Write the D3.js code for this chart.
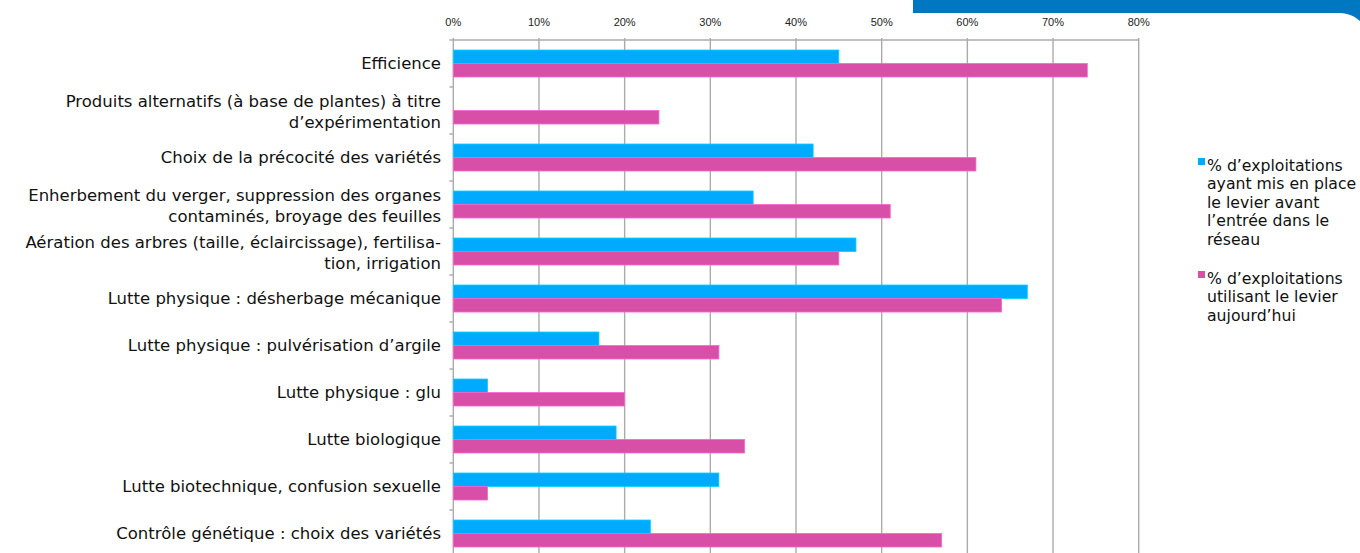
<!DOCTYPE html>
<html>
<head>
<meta charset="utf-8">
<script src="https://cdn.jsdelivr.net/npm/d3@7"></script>
<style>
  html, body { margin: 0; padding: 0; background: #fff; }
  svg { display: block; }
</style>
</head>
<body>
<svg id="chart" width="1360" height="553"></svg>
<script>
// Leviers mis en place par les exploitations
const categories = [
  "Efficience",
  "Produits alternatifs (à base de plantes) à titre\nd’expérimentation",
  "Choix de la précocité des variétés",
  "Enherbement du verger, suppression des organes\ncontaminés, broyage des feuilles",
  "Aération des arbres (taille, éclaircissage), fertilisa-\ntion, irrigation",
  "Lutte physique : désherbage mécanique",
  "Lutte physique : pulvérisation d’argile",
  "Lutte physique : glu",
  "Lutte biologique",
  "Lutte biotechnique, confusion sexuelle",
  "Contrôle génétique : choix des variétés"
];
const avantEntree = [45, 0, 42, 35, 47, 67, 17, 4, 19, 31, 23];
const aujourdhui  = [74, 24, 61, 51, 45, 64, 31, 20, 34, 4, 57];
const tickValues = [0, 10, 20, 30, 40, 50, 60, 70, 80];
const seriesNames = [
  "% d’exploitations\nayant mis en place\nle levier avant\nl’entrée dans le\nréseau",
  "% d’exploitations\nutilisant le levier\naujourd’hui"
];
const colors = ["#00ABFF", "#D84FA8"];

const svg = d3.select("#chart");

// bandeau bleu en haut à droite
svg.append("path")
  .attr("d", "M913,0 H1360 V21 C1352,14 1346,13 1336,13 H913 Z")
  .attr("fill", "#0078C1");

const x = d3.scaleLinear().domain([0, 80]).range([453.3, 1138.7]);
const y = d3.scaleBand().domain(d3.range(categories.length)).range([40, 557]);

// grille verticale
svg.append("g").selectAll("line").data(tickValues).join("line")
  .attr("x1", d => x(d)).attr("x2", d => x(d))
  .attr("y1", 38).attr("y2", 557)
  .attr("stroke", "#ABABAB").attr("stroke-width", 1.4);

// axe horizontal en haut
svg.append("line")
  .attr("x1", x(0)).attr("x2", x(80)).attr("y1", 40).attr("y2", 40)
  .attr("stroke", "#ABABAB").attr("stroke-width", 1.4);

svg.append("g").selectAll("text").data(tickValues).join("text")
  .attr("x", d => x(d)).attr("y", 25.5)
  .attr("text-anchor", "middle")
  .attr("font-family", "Liberation Sans, Arial, sans-serif")
  .attr("font-size", 11)
  .attr("fill", "#222")
  .text(d => d + "%");

// axe vertical à gauche et ses graduations
svg.append("g").selectAll("line").data(d3.range(categories.length + 1)).join("line")
  .attr("x1", x(0) - 4).attr("x2", x(0))
  .attr("y1", i => 40 + i * y.step()).attr("y2", i => 40 + i * y.step())
  .attr("stroke", "#ABABAB").attr("stroke-width", 1.4);

// barres
const barH = 13.5;
const groupOff = 10;
const series = [avantEntree, aujourdhui];
series.forEach((vals, s) => {
  svg.append("g").selectAll("rect").data(vals.map((v, i) => ({v, i}))).join("rect")
    .filter(d => d.v > 0)
    .attr("x", x(0))
    .attr("y", d => y(d.i) + groupOff + s * barH)
    .attr("width", d => x(d.v) - x(0))
    .attr("height", barH)
    .attr("fill", colors[s])
    .attr("stroke", d3.color(colors[s]).brighter(0.6))
    .attr("stroke-width", 0.8);
});

// libellés des catégories
const lab = svg.append("g")
  .attr("font-family", "DejaVu Sans, sans-serif")
  .attr("font-size", 16.5)
  .attr("fill", "#111");
categories.forEach((c, i) => {
  const lines = c.split("\n");
  const cy = y(i) + y.step() / 2;
  const lh = 21;
  const t = lab.append("text")
    .attr("text-anchor", "end")
    .attr("x", 441);
  lines.forEach((l, k) => {
    t.append("tspan")
      .attr("x", 441)
      .attr("y", cy + (k - (lines.length - 1) / 2) * lh + (lines.length > 1 ? 7 : 5.5))
      .text(l);
  });
});

// légende
const legTop = [165, 278];
const leg = svg.append("g")
  .attr("font-family", "DejaVu Sans, sans-serif")
  .attr("font-size", 15.7)
  .attr("fill", "#111");
seriesNames.forEach((n, s) => {
  leg.append("rect")
    .attr("x", 1198).attr("y", legTop[s] - 7)
    .attr("width", 7).attr("height", 7)
    .attr("fill", colors[s]);
  const t = leg.append("text");
  n.split("\n").forEach((l, k) => {
    t.append("tspan")
      .attr("x", 1207)
      .attr("y", legTop[s] + k * 18.5 + 5.5)
      .text(l);
  });
});
</script>
</body>
</html>
